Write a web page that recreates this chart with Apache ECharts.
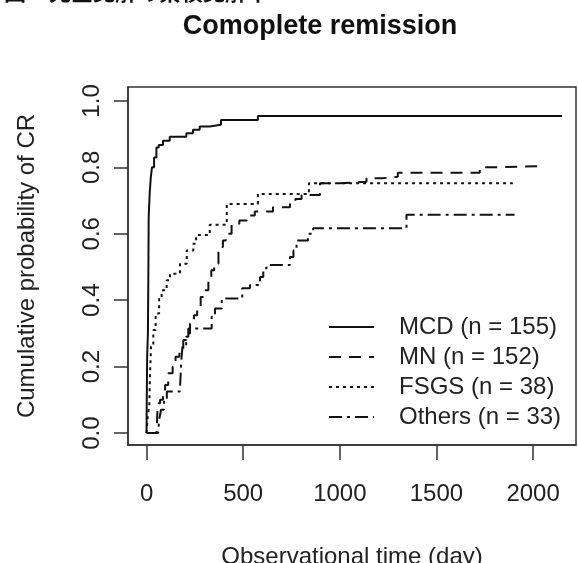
<!DOCTYPE html>
<html>
<head>
<meta charset="utf-8">
<script src="https://cdn.jsdelivr.net/npm/echarts@6/dist/echarts.min.js"></script>
<style>
  html, body { margin: 0; padding: 0; background: #fff; }
  #crChart { width: 578px; height: 563px; }
</style>
</head>
<body>
<div id="crChart"></div>
<script>
// tick labels
const xTicks = [0, 500, 1000, 1500, 2000];
const yTicks = [0, 0.2, 0.4, 0.6, 0.8, 1.0];

const seriesNames = ["MCD (n = 155)", "MN (n = 152)", "FSGS (n = 38)", "Others (n = 33)"];

// MCD
const mcdDays = [0, 1, 2, 3, 7, 9, 11, 16, 22, 28, 39, 51, 63, 85, 120, 206, 240, 275, 326, 385, 576, 2150];
const mcdCR = [0, 0.1, 0.16, 0.226, 0.3, 0.45, 0.65, 0.72, 0.77, 0.8, 0.83, 0.86, 0.867, 0.88, 0.892, 0.903, 0.913, 0.923, 0.928, 0.943, 0.955, 0.955];

// MN
const mnDays = [0, 52, 55, 58, 70, 85, 96, 112, 135, 150, 170, 190, 205, 225, 245, 262, 280, 300, 320, 335, 350, 372, 395, 410, 440, 480, 518, 560, 654, 742, 770, 802, 897, 1000, 1138, 1220, 1300, 1724, 1760, 2060];
const mnCR = [0, 0, 0.05, 0.09, 0.1, 0.12, 0.145, 0.18, 0.2, 0.23, 0.25, 0.28, 0.3, 0.33, 0.355, 0.37, 0.41, 0.43, 0.46, 0.49, 0.51, 0.56, 0.58, 0.6, 0.63, 0.64, 0.655, 0.667, 0.68, 0.69, 0.705, 0.717, 0.752, 0.757, 0.767, 0.772, 0.784, 0.8, 0.804, 0.804];

// FSGS
const fsgsDays = [0, 3, 6, 14, 16, 18, 20, 23, 35, 47, 65, 78, 104, 121, 173, 208, 242, 256, 327, 415, 576, 840, 1895];
const fsgsCR = [0, 0.026, 0.053, 0.079, 0.13, 0.18, 0.21, 0.26, 0.31, 0.36, 0.41, 0.43, 0.46, 0.48, 0.51, 0.55, 0.57, 0.596, 0.627, 0.69, 0.72, 0.752, 0.752];

// Others
const othDays = [0, 60, 65, 75, 90, 105, 172, 176, 180, 186, 205, 216, 337, 354, 389, 495, 535, 587, 604, 621, 742, 760, 776, 835, 862, 1345, 1904];
const othCR = [0, 0, 0.04, 0.07, 0.1, 0.125, 0.125, 0.17, 0.22, 0.26, 0.29, 0.315, 0.35, 0.375, 0.405, 0.436, 0.446, 0.47, 0.496, 0.506, 0.53, 0.55, 0.58, 0.6, 0.617, 0.657, 0.657];

const toPairs = (days, cr) => days.map((d, i) => [d, cr[i]]);

const lineTypes = ["solid", [12, 8], [3, 4], [13, 5, 3, 5]];
const curves = [
  toPairs(mcdDays, mcdCR),
  toPairs(mnDays, mnCR),
  toPairs(fsgsDays, fsgsCR),
  toPairs(othDays, othCR)
];

const font = "'Liberation Sans', Arial, sans-serif";
const chart = echarts.init(document.getElementById("crChart"));

chart.setOption({
  animation: false,
  backgroundColor: "#fff",
  graphic: [
    {
      type: "text",
      x: 4,
      y: -8,
      style: {
        text: "図 3 完全寛解の累積寛解率",
        font: "bold 22px 'Noto Sans CJK JP'",
        fill: "#111",
        verticalAlign: "middle"
      }
    },
    {
      type: "text",
      x: 320,
      y: 27,
      style: {
        text: "Comoplete remission",
        font: "bold 27px " + font,
        fill: "#111",
        align: "center",
        verticalAlign: "middle"
      }
    }
  ],
  grid: {
    left: 128,
    top: 87,
    width: 448,
    height: 358,
    outerBoundsMode: "none",
    containLabel: false,
    show: true,
    borderColor: "#333",
    borderWidth: 1.5
  },
  legend: {
    orient: "vertical",
    left: 328,
    top: 315,
    padding: 0,
    itemWidth: 45,
    itemHeight: 14,
    itemGap: 6,
    selectedMode: false,
    data: seriesNames,
    itemStyle: { opacity: 0 },
    textStyle: {
      fontFamily: font,
      fontSize: 24,
      lineHeight: 24,
      color: "#222",
      padding: [0, 0, 0, 20]
    }
  },
  xAxis: {
    type: "value",
    min: -96,
    max: 2222,
    name: "Observational time (day)",
    nameLocation: "middle",
    nameGap: 100,
    nameTextStyle: { fontFamily: font, fontSize: 24, color: "#222" },
    axisLine: { show: true, onZero: false, lineStyle: { color: "#333", width: 1.5 } },
    splitLine: { show: false },
    axisTick: {
      show: true,
      customValues: xTicks,
      length: 15,
      lineStyle: { color: "#333", width: 1.5 }
    },
    axisLabel: {
      customValues: xTicks,
      margin: 37,
      fontFamily: font,
      fontSize: 24,
      color: "#222",
      formatter: v => String(v)
    }
  },
  yAxis: {
    type: "value",
    min: -0.036,
    max: 1.042,
    name: "Cumulative probability of CR",
    nameLocation: "middle",
    nameGap: 89,
    nameTextStyle: { fontFamily: font, fontSize: 24, color: "#222" },
    axisLine: { show: true, onZero: false, lineStyle: { color: "#333", width: 1.5 } },
    splitLine: { show: false },
    axisTick: {
      show: true,
      customValues: yTicks,
      length: 14,
      lineStyle: { color: "#333", width: 1.5 }
    },
    axisLabel: {
      customValues: yTicks,
      rotate: 90,
      margin: 24,
      fontFamily: font,
      fontSize: 24,
      color: "#222",
      formatter: v => v.toFixed(1)
    }
  },
  series: curves.map((data, i) => ({
    name: seriesNames[i],
    type: "line",
    step: "end",
    symbol: "none",
    data: data,
    itemStyle: { color: "#111" },
    lineStyle: { color: "#111", width: 2, type: lineTypes[i] }
  }))
});
</script>
</body>
</html>
